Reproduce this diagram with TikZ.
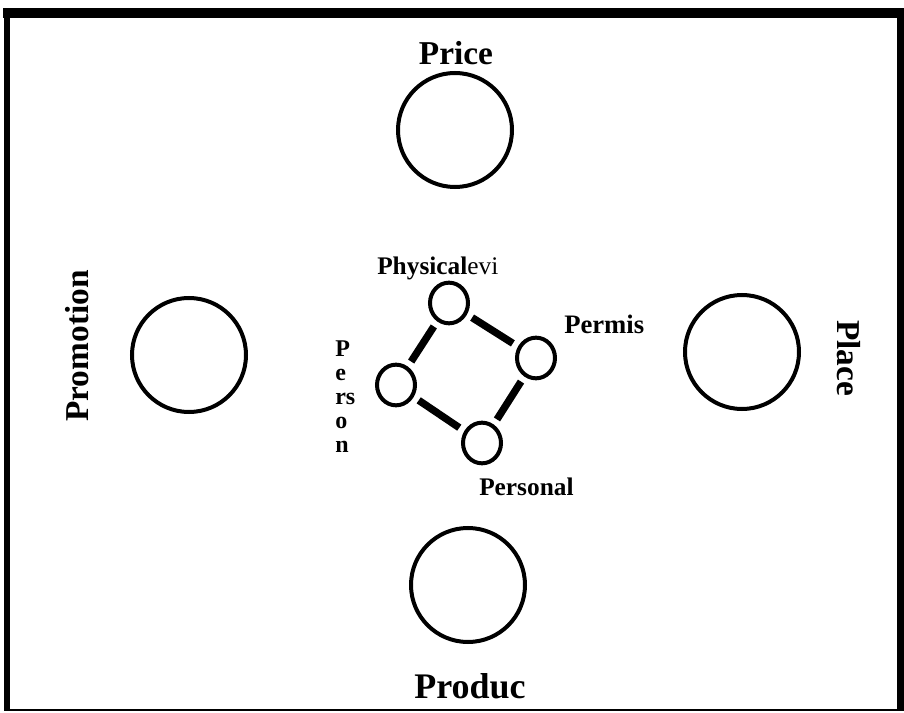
\documentclass[tikz,border=0pt]{standalone}
\usepackage{fontspec}
\setmainfont{Liberation Serif}
\usetikzlibrary{shapes.geometric}

\tikzset{
  bigring/.style={draw,circle,line width=3pt,minimum size=85.5pt,inner sep=0pt},
  smallring/.style={draw,ellipse,line width=3pt,minimum width=28.5pt,minimum height=30.5pt,inner sep=0pt},
  link/.style={line width=5.5pt,shorten <=4.5pt,shorten >=4.5pt},
  mixlabel/.style={font=\fontsize{25}{28}\selectfont\bfseries,inner sep=0pt},
  plabel/.style={font=\fontsize{19}{18}\selectfont\bfseries,inner sep=0pt}
}

\begin{document}
\begin{tikzpicture}[x=0.75pt,y=-0.75pt]
  \useasboundingbox (0,0) rectangle (904,713);

  % Moldura
  \draw[line width=7pt] (3,13) -- (904,13);
  \draw[line width=5pt] (7,9) -- (7,711);
  \draw[line width=5pt] (900.5,9) -- (900.5,711);
  \draw[line width=1.5pt] (4,710) -- (903,710);

  % Os 4 P
  \foreach \name/\x/\y in {price/455/130, promo/189/355, place/742/352, product/468/585}
    \node[bigring] (\name) at (\x,\y) {};

  \node[mixlabel,anchor=base] (priceT) at (456,65) {Price};
  \node[mixlabel,font=\fontsize{27}{28}\selectfont\bfseries,anchor=base] (productT) at (470,698) {Produc};
  \node[mixlabel,rotate=90] (promoT) at (77,346) {Promotion};
  \node[mixlabel,rotate=-90] (placeT) at (849,358) {Place};

  % Os P digitais
  \node[smallring] (phys) at (449,303) {};
  \node[smallring] (perm) at (536,358) {};
  \node[smallring] (pson) at (396,385) {};
  \node[smallring] (psnl) at (482,443) {};

  \foreach \a/\b in {phys/perm, phys/pson, pson/psnl, perm/psnl}
    \draw[link] (\a) -- (\b);

  \node[plabel,anchor=base west] (physT) at (377,275) {Physical\textmd{evi}};
  \node[plabel,font=\fontsize{20}{18}\selectfont\bfseries,anchor=base west] (permT) at (564,334) {Permis};
  \node[plabel,anchor=base west] (psnlT) at (479,495) {Personal};
  \node[plabel,font=\fontsize{18}{18}\selectfont\bfseries,align=left,anchor=north west] (psonT) at (335,341) {P\\e\\rs\\o\\n};

\end{tikzpicture}
\end{document}
